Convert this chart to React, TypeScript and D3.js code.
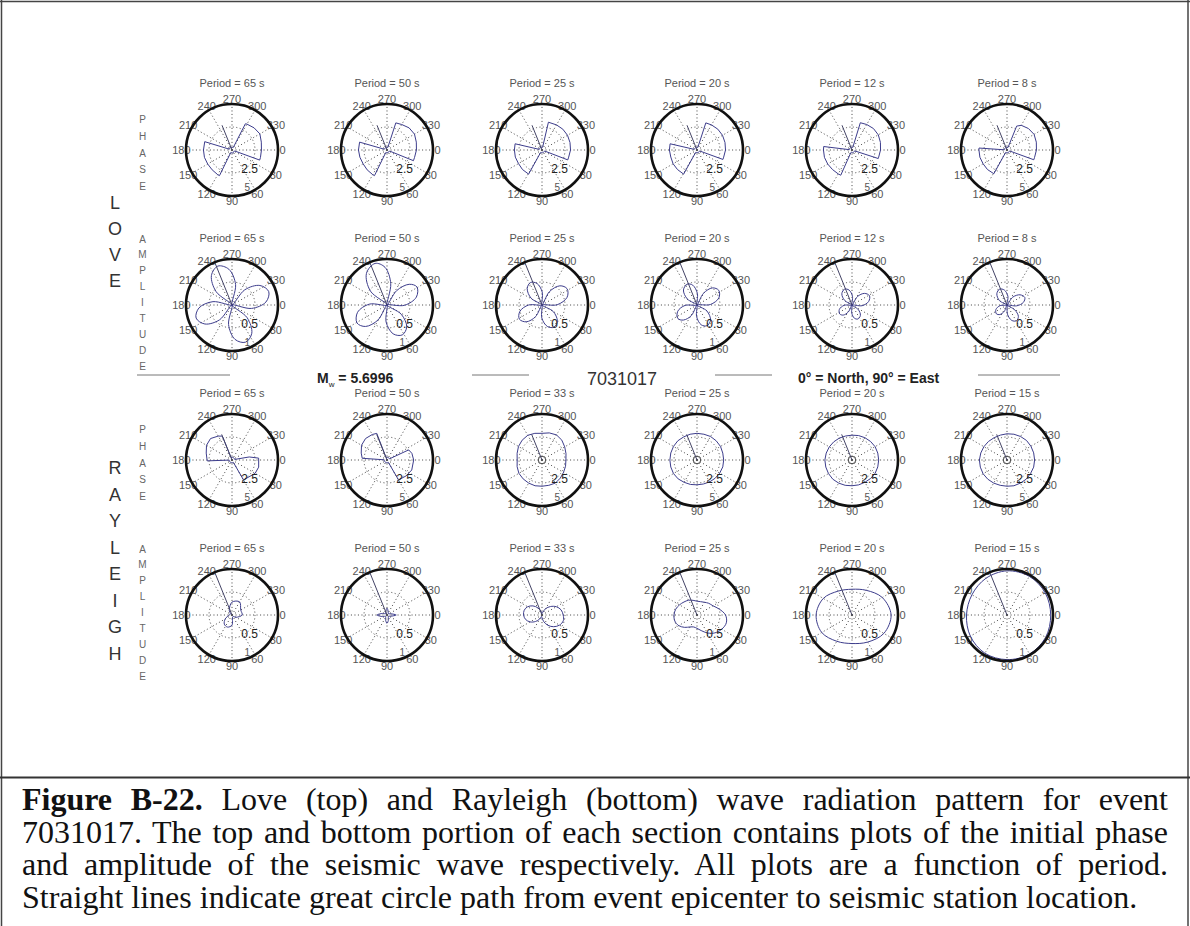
import React, { useLayoutEffect, useRef } from 'react';
import * as d3 from 'd3';

type Pt = [number, number]; // [azimuth in degrees, radial value]

// ---- data ----------------------------------------------------------------
const LOVE_PERIODS = [65, 50, 25, 20, 12, 8];
const RAYLEIGH_PERIODS = [65, 50, 33, 25, 20, 15];
const AZIMUTH_TICKS = [0, 30, 60, 90, 120, 150, 180, 210, 240, 270, 300, 330];
const PHASE_TICKS = [2.5, 5];
const AMPLITUDE_TICKS = [0.5, 1];
const STATION_AZIMUTH = 248;
const EVENT_ID = '7031017';
const MAGNITUDE = '5.6996';

// Love wave initial phase (radians) versus azimuth, one series per period
const LOVE_PHASE: Pt[][] = [
  [[0, 3.2], [15, 3.2], [20, 3.2], [20, 0.3], [30, 0.3], [45, 0.25], [60, 0.3], [75, 0.35], [90, 0.3], [105, 0.3], [116, 0.3], [116, 3.1], [120, 3.1], [135, 3.05], [150, 3.05], [165, 3.1], [180, 3.1], [197, 3.1], [197, 0.3], [210, 0.3], [225, 0.35], [240, 0.3], [255, 0.3], [270, 0.25], [285, 0.3], [297, 0.3], [297, 3.2], [300, 3.25], [315, 3.4], [330, 3.5], [345, 3.3]],
  [[0, 3.2], [15, 3.1], [22, 3.1], [22, 0.3], [30, 0.3], [45, 0.3], [60, 0.25], [75, 0.3], [90, 0.3], [105, 0.3], [116, 0.3], [116, 3.1], [120, 3.1], [135, 3.05], [150, 3.0], [165, 3.05], [180, 3.1], [196, 3.1], [196, 0.3], [210, 0.3], [225, 0.3], [240, 0.3], [255, 0.3], [270, 0.3], [288, 0.3], [288, 3.1], [300, 3.2], [315, 3.4], [330, 3.45], [345, 3.3]],
  [[0, 3.1], [15, 3.0], [21, 3.0], [21, 0.3], [30, 0.3], [45, 0.3], [60, 0.3], [75, 0.25], [90, 0.3], [105, 0.3], [119, 0.3], [119, 3.0], [135, 3.0], [150, 2.95], [165, 3.0], [180, 3.0], [193, 3.0], [193, 0.3], [210, 0.3], [225, 0.3], [240, 0.35], [255, 0.3], [270, 0.3], [283, 0.3], [283, 3.1], [300, 3.15], [315, 3.2], [330, 3.2], [345, 3.15]],
  [[0, 3.1], [15, 3.0], [20, 3.0], [20, 0.3], [30, 0.3], [45, 0.3], [60, 0.3], [75, 0.3], [90, 0.25], [105, 0.3], [119, 0.3], [119, 3.0], [135, 3.0], [150, 3.0], [165, 2.95], [180, 3.0], [193, 3.0], [193, 0.3], [210, 0.3], [225, 0.3], [240, 0.3], [255, 0.3], [270, 0.3], [288, 0.3], [288, 3.1], [300, 3.15], [315, 3.2], [330, 3.2], [345, 3.15]],
  [[0, 3.1], [15, 3.0], [18, 3.0], [18, 0.3], [30, 0.3], [45, 0.3], [60, 0.3], [75, 0.3], [90, 0.3], [105, 0.25], [114, 0.3], [114, 3.0], [120, 3.0], [135, 3.0], [150, 3.05], [165, 3.1], [180, 3.1], [187, 3.1], [187, 0.3], [210, 0.3], [225, 0.3], [240, 0.3], [255, 0.3], [270, 0.3], [287, 0.3], [287, 3.1], [300, 3.2], [315, 3.3], [330, 3.3], [345, 3.2]],
  [[0, 3.2], [15, 3.1], [20, 3.1], [20, 0.3], [30, 0.3], [45, 0.3], [60, 0.3], [75, 0.3], [90, 0.3], [105, 0.3], [119, 0.3], [119, 2.95], [135, 3.0], [150, 3.0], [165, 3.05], [180, 3.05], [184, 3.05], [184, 0.3], [210, 0.3], [225, 0.3], [240, 0.3], [255, 0.3], [270, 0.3], [292, 0.3], [292, 2.8], [300, 3.1], [315, 3.3], [330, 3.4], [345, 3.3]],
];

// Love wave normalised amplitude versus azimuth
const LOVE_AMPLITUDE: Pt[][] = [
  [[25, 0], [40, 0.43], [55, 0.75], [70, 0.86], [85, 0.75], [100, 0.43], [115, 0], [130, 0.42], [145, 0.72], [160, 0.83], [175, 0.72], [190, 0.42], [205, 0], [220, 0.45], [235, 0.78], [250, 0.9], [265, 0.78], [280, 0.45], [295, 0], [310, 0.43], [325, 0.74], [340, 0.85], [355, 0.74], [10, 0.43]],
  [[16, 0], [33, 0.37], [48, 0.64], [63, 0.73], [78, 0.64], [93, 0.37], [106, 0], [121, 0.38], [135, 0.66], [149, 0.76], [166, 0.66], [183, 0.38], [201, 0], [220, 0.47], [237, 0.82], [254, 0.94], [267, 0.82], [280, 0.47], [292, 0], [304, 0.38], [317, 0.66], [329, 0.76], [345, 0.66], [1, 0.38]],
  [[14, 0], [30, 0.28], [46, 0.48], [61, 0.55], [76, 0.48], [91, 0.28], [104, 0], [119, 0.29], [133, 0.5], [148, 0.58], [164, 0.5], [180, 0.29], [196, 0], [212, 0.28], [228, 0.48], [243, 0.55], [257, 0.48], [271, 0.28], [285, 0], [299, 0.33], [313, 0.57], [327, 0.65], [343, 0.57], [359, 0.33]],
  [[15, 0], [31, 0.25], [48, 0.44], [64, 0.5], [78, 0.44], [92, 0.25], [105, 0], [118, 0.26], [132, 0.44], [145, 0.51], [162, 0.44], [178, 0.26], [195, 0], [212, 0.25], [228, 0.44], [245, 0.5], [258, 0.44], [272, 0.25], [285, 0], [299, 0.29], [312, 0.5], [326, 0.57], [342, 0.5], [358, 0.29]],
  [[20, 0], [36, 0.17], [51, 0.29], [67, 0.33], [80, 0.29], [92, 0.17], [105, 0], [118, 0.17], [131, 0.29], [144, 0.33], [161, 0.29], [178, 0.17], [195, 0], [212, 0.19], [228, 0.33], [245, 0.38], [259, 0.33], [273, 0.19], [288, 0], [303, 0.22], [317, 0.37], [332, 0.43], [348, 0.37], [4, 0.22]],
  [[18, 0], [32, 0.2], [45, 0.35], [59, 0.4], [73, 0.35], [87, 0.2], [100, 0], [113, 0.15], [127, 0.26], [140, 0.3], [158, 0.26], [175, 0.15], [193, 0], [210, 0.19], [228, 0.33], [245, 0.38], [260, 0.33], [276, 0.19], [291, 0], [306, 0.21], [322, 0.36], [337, 0.42], [351, 0.36], [5, 0.21]],
];

// Rayleigh wave initial phase (radians) versus azimuth
const RAYLEIGH_PHASE: Pt[][] = [
  [[0, 2.9], [15, 3.0], [30, 2.9], [45, 2.6], [60, 2.5], [60, 0.3], [75, 0.3], [90, 0.3], [105, 0.3], [120, 0.3], [135, 0.3], [150, 0.3], [165, 0.3], [178, 0.3], [178, 2.7], [195, 2.9], [210, 3.2], [225, 3.3], [240, 3.0], [248, 2.8], [248, 0.3], [270, 0.3], [285, 0.3], [300, 0.3], [315, 0.3], [330, 0.3], [348, 0.3], [350, 1.9], [356, 2.9]],
  [[0, 2.9], [22, 2.9], [40, 2.7], [60, 2.5], [60, 0.3], [75, 0.3], [90, 0.3], [105, 0.3], [120, 0.3], [135, 0.3], [150, 0.3], [165, 0.3], [184, 0.3], [184, 2.7], [195, 2.9], [210, 3.2], [225, 3.3], [240, 3.2], [249, 3.1], [249, 0.3], [270, 0.3], [285, 0.3], [300, 0.3], [315, 0.3], [335, 0.3], [335, 2.6], [345, 2.8]],
  [[0, 2.6], [15, 2.65], [30, 2.7], [45, 2.8], [60, 2.9], [75, 2.85], [90, 2.85], [105, 2.9], [120, 2.9], [135, 2.9], [150, 2.9], [165, 2.8], [180, 2.7], [195, 2.8], [210, 2.95], [225, 3.05], [240, 3.1], [255, 3.0], [270, 2.9], [285, 3.05], [300, 3.15], [315, 3.05], [330, 2.85], [345, 2.7]],
  [[0, 2.9], [15, 2.9], [30, 2.85], [45, 2.8], [60, 2.75], [75, 2.7], [90, 2.7], [105, 2.75], [120, 2.8], [135, 2.9], [150, 2.95], [165, 2.95], [180, 2.95], [195, 2.95], [210, 2.95], [225, 2.95], [240, 2.9], [255, 2.9], [270, 2.9], [285, 2.9], [300, 2.95], [315, 2.95], [330, 2.95], [345, 2.9]],
  [[0, 2.9], [15, 2.9], [30, 2.9], [45, 2.85], [60, 2.8], [75, 2.8], [90, 2.8], [105, 2.85], [120, 2.9], [135, 2.95], [150, 2.95], [165, 2.95], [180, 2.95], [195, 2.9], [210, 2.85], [225, 2.8], [240, 2.75], [255, 2.7], [270, 2.7], [285, 2.75], [300, 2.8], [315, 2.85], [330, 2.9], [345, 2.9]],
  [[0, 3.0], [15, 3.0], [30, 2.95], [45, 2.95], [60, 2.9], [75, 2.9], [90, 2.85], [105, 2.85], [120, 2.9], [135, 2.95], [150, 3.0], [165, 3.0], [180, 3.0], [195, 2.95], [210, 2.9], [225, 2.85], [240, 2.8], [255, 2.8], [270, 2.85], [285, 2.9], [300, 2.95], [315, 3.0], [330, 3.0], [345, 3.0]],
];
// small near-zero phase loop around the epicentre (radians), where present
const RAYLEIGH_PHASE_CORE = [0, 0, 0.4, 0.4, 0.4, 0.4];

// Rayleigh wave normalised amplitude versus azimuth
const RAYLEIGH_AMPLITUDE: Pt[][] = [
  [[0, 0.22], [30, 0.1], [60, 0.04], [90, 0.22], [110, 0.28], [130, 0.26], [150, 0.17], [180, 0.06], [210, 0.04], [240, 0.12], [270, 0.28], [300, 0.33], [330, 0.22]],
  [[0, 0.2], [20, 0.08], [45, 0.04], [70, 0.1], [90, 0.18], [110, 0.1], [135, 0.04], [160, 0.1], [180, 0.22], [200, 0.1], [225, 0.04], [250, 0.08], [270, 0.15], [290, 0.08], [315, 0.04], [340, 0.08]],
  [[0, 0.46], [15, 0.48], [30, 0.44], [45, 0.36], [60, 0.26], [75, 0.15], [90, 0.06], [105, 0.03], [120, 0.1], [135, 0.2], [150, 0.3], [165, 0.37], [180, 0.4], [195, 0.4], [210, 0.36], [225, 0.28], [240, 0.18], [255, 0.08], [270, 0.03], [285, 0.06], [300, 0.16], [315, 0.26], [330, 0.36], [345, 0.43]],
  [[0, 0.62], [15, 0.66], [30, 0.62], [45, 0.55], [60, 0.45], [75, 0.35], [90, 0.29], [105, 0.27], [120, 0.3], [135, 0.38], [150, 0.46], [165, 0.5], [180, 0.5], [195, 0.48], [210, 0.44], [225, 0.4], [240, 0.37], [255, 0.33], [270, 0.3], [285, 0.3], [300, 0.32], [315, 0.36], [330, 0.4], [345, 0.5]],
  [[0, 0.85], [30, 0.8], [60, 0.68], [90, 0.62], [120, 0.66], [150, 0.76], [180, 0.78], [210, 0.72], [240, 0.6], [270, 0.56], [300, 0.62], [330, 0.76]],
  [[0, 0.95], [30, 0.97], [60, 0.98], [90, 0.97], [120, 0.96], [150, 0.92], [180, 0.88], [210, 0.88], [240, 0.92], [270, 0.96], [300, 0.97], [330, 0.96]],
];

const CAPTION_LINES = [
  { bold: 'Figure B-22.', text: ' Love (top) and Rayleigh (bottom) wave radiation pattern for event', justify: true },
  { bold: '', text: '7031017. The top and bottom portion of each section contains plots of the initial phase', justify: true },
  { bold: '', text: 'and amplitude of the seismic wave respectively. All plots are a function of period.', justify: true },
  { bold: '', text: 'Straight lines indicate great circle path from event epicenter to seismic station location.', justify: false },
];

// ---- layout --------------------------------------------------------------
const W = 1190;
const H = 926;
const R = 46;
const SANS = "'Liberation Sans', Arial, Helvetica, sans-serif";
const SERIF = "'Liberation Serif', 'Times New Roman', serif";
const CURVE = '#3d3d8c';

const colX = d3.scalePoint<number>().domain(d3.range(6)).range([232, 1007]);
const rowY = d3.scalePoint<number>().domain(d3.range(4)).range([150, 615]);

const rad = (deg: number) => (deg * Math.PI) / 180;

interface PanelProps {
  cx: number;
  cy: number;
  period: number;
  rMax: number;
  ticks: number[];
  series: Pt[];
  smooth: boolean;
  core?: number;
  pathLen: number;
}

function PolarPanel({ cx, cy, period, rMax, ticks, series, smooth, core, pathLen }: PanelProps) {
  const r = d3.scaleLinear().domain([0, rMax]).range([0, R]);
  const at = (deg: number, v: number): [number, number] => [
    cx + r(v) * Math.cos(rad(deg)),
    cy + r(v) * Math.sin(rad(deg)),
  ];
  const line = d3
    .lineRadial<Pt>()
    .angle((d) => rad(d[0] + 90))
    .radius((d) => r(d[1]))
    .curve(smooth ? d3.curveCatmullRomClosed.alpha(0.5) : d3.curveLinearClosed);

  const [px, py] = at(STATION_AZIMUTH, pathLen);
  const [ix, iy] = at(47, ticks[0] * 1.12);
  const [ox, oy] = at(68, ticks[1] * 0.89);

  return (
    <g>
      <text x={cx} y={cy - 67} textAnchor="middle" dominantBaseline="central" fontFamily={SANS} fontSize={11} fill="#555">
        {`Period = ${period} s`}
      </text>
      {AZIMUTH_TICKS.map((a) => {
        const [x, y] = at(a, rMax);
        return <line key={a} x1={cx} y1={cy} x2={x} y2={y} stroke="#555" strokeWidth={1} strokeDasharray="1.1 2.4" />;
      })}
      <circle cx={cx} cy={cy} r={r(ticks[0])} fill="none" stroke="#555" strokeWidth={1} strokeDasharray="1.1 2.4" />
      {AZIMUTH_TICKS.map((a) => {
        const [x, y] = at(a, rMax * 1.1);
        return (
          <text key={a} x={x} y={y} textAnchor="middle" dominantBaseline="central" fontFamily={SANS} fontSize={11} fill="#555">
            {a}
          </text>
        );
      })}
      <path d={line(series) ?? ''} transform={`translate(${cx},${cy})`} fill="none" stroke={CURVE} strokeWidth={1} strokeLinejoin="round" />
      {core ? <circle cx={cx} cy={cy} r={r(core)} fill="none" stroke="#444" strokeWidth={0.9} /> : null}
      <line x1={cx} y1={cy} x2={px} y2={py} stroke="#444466" strokeWidth={1} />
      <circle cx={cx} cy={cy} r={R} fill="none" stroke="#111" strokeWidth={2.6} />
      <text x={ix} y={iy} textAnchor="middle" dominantBaseline="central" fontFamily={SANS} fontSize={12} fill="#222">
        {ticks[0]}
      </text>
      <text x={ox} y={oy} textAnchor="middle" dominantBaseline="central" fontFamily={SANS} fontSize={10} fill="#555">
        {ticks[1]}
      </text>
    </g>
  );
}

// One caption line; justified lines get their word spacing stretched to fill the box.
function CaptionLine({ y, bold, text, justify }: { y: number; bold: string; text: string; justify: boolean }) {
  const ref = useRef<SVGTextElement>(null);
  const left = 22;
  const right = 1168;
  useLayoutEffect(() => {
    const el = ref.current;
    if (!el || !justify) return;
    const measure = () => {
      el.setAttribute('word-spacing', '0');
      const natural = el.getComputedTextLength();
      const spaces = ((bold + text).match(/ /g) || []).length;
      const ws = spaces ? (right - left - natural) / spaces : 0;
      el.setAttribute('word-spacing', String(ws));
    };
    measure();
    const fonts = (document as any).fonts;
    if (fonts?.ready) fonts.ready.then(measure);
  }, [bold, text, justify]);
  return (
    <text ref={ref} x={left} y={y} fontFamily={SERIF} fontSize={32} fill="#111" style={{ whiteSpace: 'pre' }}>
      {bold ? <tspan fontWeight="bold">{bold}</tspan> : null}
      {text}
    </text>
  );
}

export default function App() {
  const rows = [
    { periods: LOVE_PERIODS, data: LOVE_PHASE, rMax: 5, ticks: PHASE_TICKS, smooth: false, core: undefined as number[] | undefined, pathLen: 2.9 },
    { periods: LOVE_PERIODS, data: LOVE_AMPLITUDE, rMax: 1, ticks: AMPLITUDE_TICKS, smooth: true, core: undefined, pathLen: 1 },
    { periods: RAYLEIGH_PERIODS, data: RAYLEIGH_PHASE, rMax: 5, ticks: PHASE_TICKS, smooth: false, core: RAYLEIGH_PHASE_CORE, pathLen: 3 },
    { periods: RAYLEIGH_PERIODS, data: RAYLEIGH_AMPLITUDE, rMax: 1, ticks: AMPLITUDE_TICKS, smooth: true, core: undefined, pathLen: 1 },
  ];

  const sideLetters = (word: string, x: number, y0: number, step: number, size: number, fill: string, keyBase: string) =>
    word.split('').map((ch, i) => (
      <text key={keyBase + i} x={x} y={y0 + i * step} textAnchor="middle" dominantBaseline="central" fontFamily={SANS} fontSize={size} fill={fill}>
        {ch}
      </text>
    ));

  const sepY = 375;

  return (
    <div style={{ position: 'absolute', left: 0, top: 0, width: W, height: H, background: '#fff' }}>
      <svg width={W} height={H} viewBox={`0 0 ${W} ${H}`} style={{ display: 'block' }}>
        <rect width={W} height={H} fill="#fff" />
        {/* frame */}
        <line x1={0} y1={1.5} x2={W} y2={1.5} stroke="#444" strokeWidth={1.5} />
        <line x1={1.5} y1={0} x2={1.5} y2={H} stroke="#444" strokeWidth={1.5} />
        <line x1={1188} y1={0} x2={1188} y2={H} stroke="#444" strokeWidth={1.5} />
        <line x1={0} y1={777.5} x2={W} y2={777.5} stroke="#333" strokeWidth={2} />

        {/* side labels */}
        {sideLetters('LOVE', 115, 203, 26, 18, '#333', 'love')}
        {sideLetters('RAYLEIGH', 115, 468, 26.5, 18, '#333', 'ray')}
        {[0, 2].map((ri) => sideLetters('PHASE', 142.5, rowY(ri)! + 3 - 2 * 16.75, 16.75, 10, '#666', 'ph' + ri))}
        {[1, 3].map((ri) => sideLetters('AMPLITUDE', 142.5, rowY(ri)! - 66, 15.9, 10, '#666', 'am' + ri))}

        {/* panels */}
        {rows.map((row, ri) =>
          row.periods.map((p, ci) => (
            <PolarPanel
              key={`${ri}-${ci}`}
              cx={colX(ci)!}
              cy={rowY(ri)!}
              period={p}
              rMax={row.rMax}
              ticks={row.ticks}
              series={row.data[ci]}
              smooth={row.smooth}
              core={row.core ? row.core[ci] : undefined}
              pathLen={row.pathLen}
            />
          ))
        )}

        {/* event banner between the Love and Rayleigh sections */}
        <g stroke="#777" strokeWidth={1}>
          <line x1={137} y1={sepY} x2={230} y2={sepY} />
          <line x1={472} y1={sepY} x2={529} y2={sepY} />
          <line x1={715} y1={sepY} x2={772} y2={sepY} />
          <line x1={978} y1={sepY} x2={1060} y2={sepY} />
        </g>
        <text x={317} y={383} fontFamily={SANS} fontSize={14} fontWeight="bold" fill="#222">
          <tspan>M</tspan>
          <tspan dy={4} fontSize={8} fontWeight="normal">w</tspan>
          <tspan dy={-4}>{` = ${MAGNITUDE}`}</tspan>
        </text>
        <text x={622} y={384.5} textAnchor="middle" fontFamily={SANS} fontSize={18} fill="#333">
          {EVENT_ID}
        </text>
        <text x={798} y={383} fontFamily={SANS} fontSize={14} fontWeight="bold" fill="#222">
          0° = North, 90° = East
        </text>

        {/* caption */}
        {CAPTION_LINES.map((l, i) => (
          <CaptionLine key={i} y={810 + i * 32.5} bold={l.bold} text={l.text} justify={l.justify} />
        ))}
      </svg>
    </div>
  );
}
